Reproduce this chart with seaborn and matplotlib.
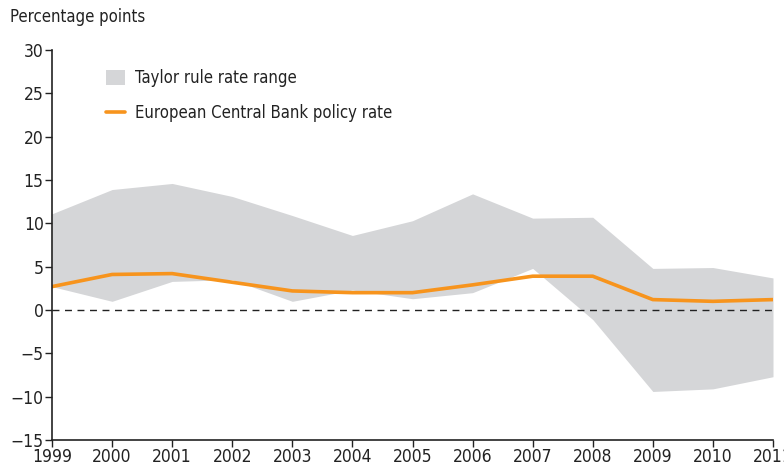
import pandas as pd
import matplotlib.pyplot as plt
import seaborn as sns
from matplotlib.patches import Patch
from matplotlib.lines import Line2D

years = list(range(1999, 2012))
taylor_high = [11.1, 13.9, 14.6, 13.1, 10.9, 8.6, 10.3, 13.4, 10.6, 10.7, 4.8, 4.9, 3.7]
taylor_low = [2.7, 1.0, 3.3, 3.5, 1.0, 2.3, 1.3, 2.0, 4.8, -1.1, -9.4, -9.1, -7.7]
ecb_rate = [2.7, 4.1, 4.2, 3.2, 2.2, 2.0, 2.0, 2.9, 3.9, 3.9, 1.2, 1.0, 1.2]

yticks = [-15, -10, -5, 0, 5, 10, 15, 20, 25, 30]

sns.set_theme(style="white")
# condensed face, closest to the original narrow type
plt.rcParams['font.family'] = ['DejaVu Sans']
plt.rcParams['font.stretch'] = 'condensed'
plt.rcParams['font.size'] = 12

df = pd.DataFrame({'Year': years, 'High': taylor_high, 'Low': taylor_low, 'ECB': ecb_rate})

grey = '#d5d6d8'
orange = '#f7941d'

fig = plt.figure(figsize=(7.84, 4.68), dpi=100)
ax = fig.add_axes([52 / 784, 1 - 440 / 468, (773 - 52) / 784, 390 / 468])

# Taylor rule range
ax.fill_between(df['Year'], df['Low'], df['High'], color=grey, linewidth=0)
# zero line
ax.axhline(0, color='#222222', linestyle=(0, (5, 4)), linewidth=1)
# ECB policy rate
sns.lineplot(data=df, x='Year', y='ECB', color=orange, linewidth=2.6, ax=ax)

ax.set_xlim(1999, 2011)
ax.set_ylim(-15, 30)
ax.set_xticks(years)
ax.set_yticks(yticks)
ax.set_yticklabels([str(t).replace('-', '\u2212') for t in yticks])
ax.set_xlabel('')
ax.set_ylabel('')

for side in ['top', 'right']:
    ax.spines[side].set_visible(False)
for side in ['left', 'bottom']:
    ax.spines[side].set_color('#222222')
    ax.spines[side].set_linewidth(1.2)
ax.tick_params(axis='both', direction='out', length=5, width=1, color='#222222',
               labelsize=12.5, labelcolor='#222222', pad=1, left=True, bottom=True)

fig.text(10 / 784, 1 - 17 / 468, 'Percentage points', fontsize=12,
         color='#222222', va='center', ha='left')

handles = [Patch(facecolor=grey, edgecolor='none', label='Taylor rule rate range'),
           Line2D([0], [0], color=orange, linewidth=2.6, label='European Central Bank policy rate')]
ax.legend(handles=handles, loc='upper left', bbox_to_anchor=(0.054, 0.99), frameon=False,
          fontsize=12, handlelength=1.15, handleheight=1.0, labelspacing=1.05, handletextpad=0.6,
          labelcolor='#222222')

fig.savefig('out.png', dpi=100)
